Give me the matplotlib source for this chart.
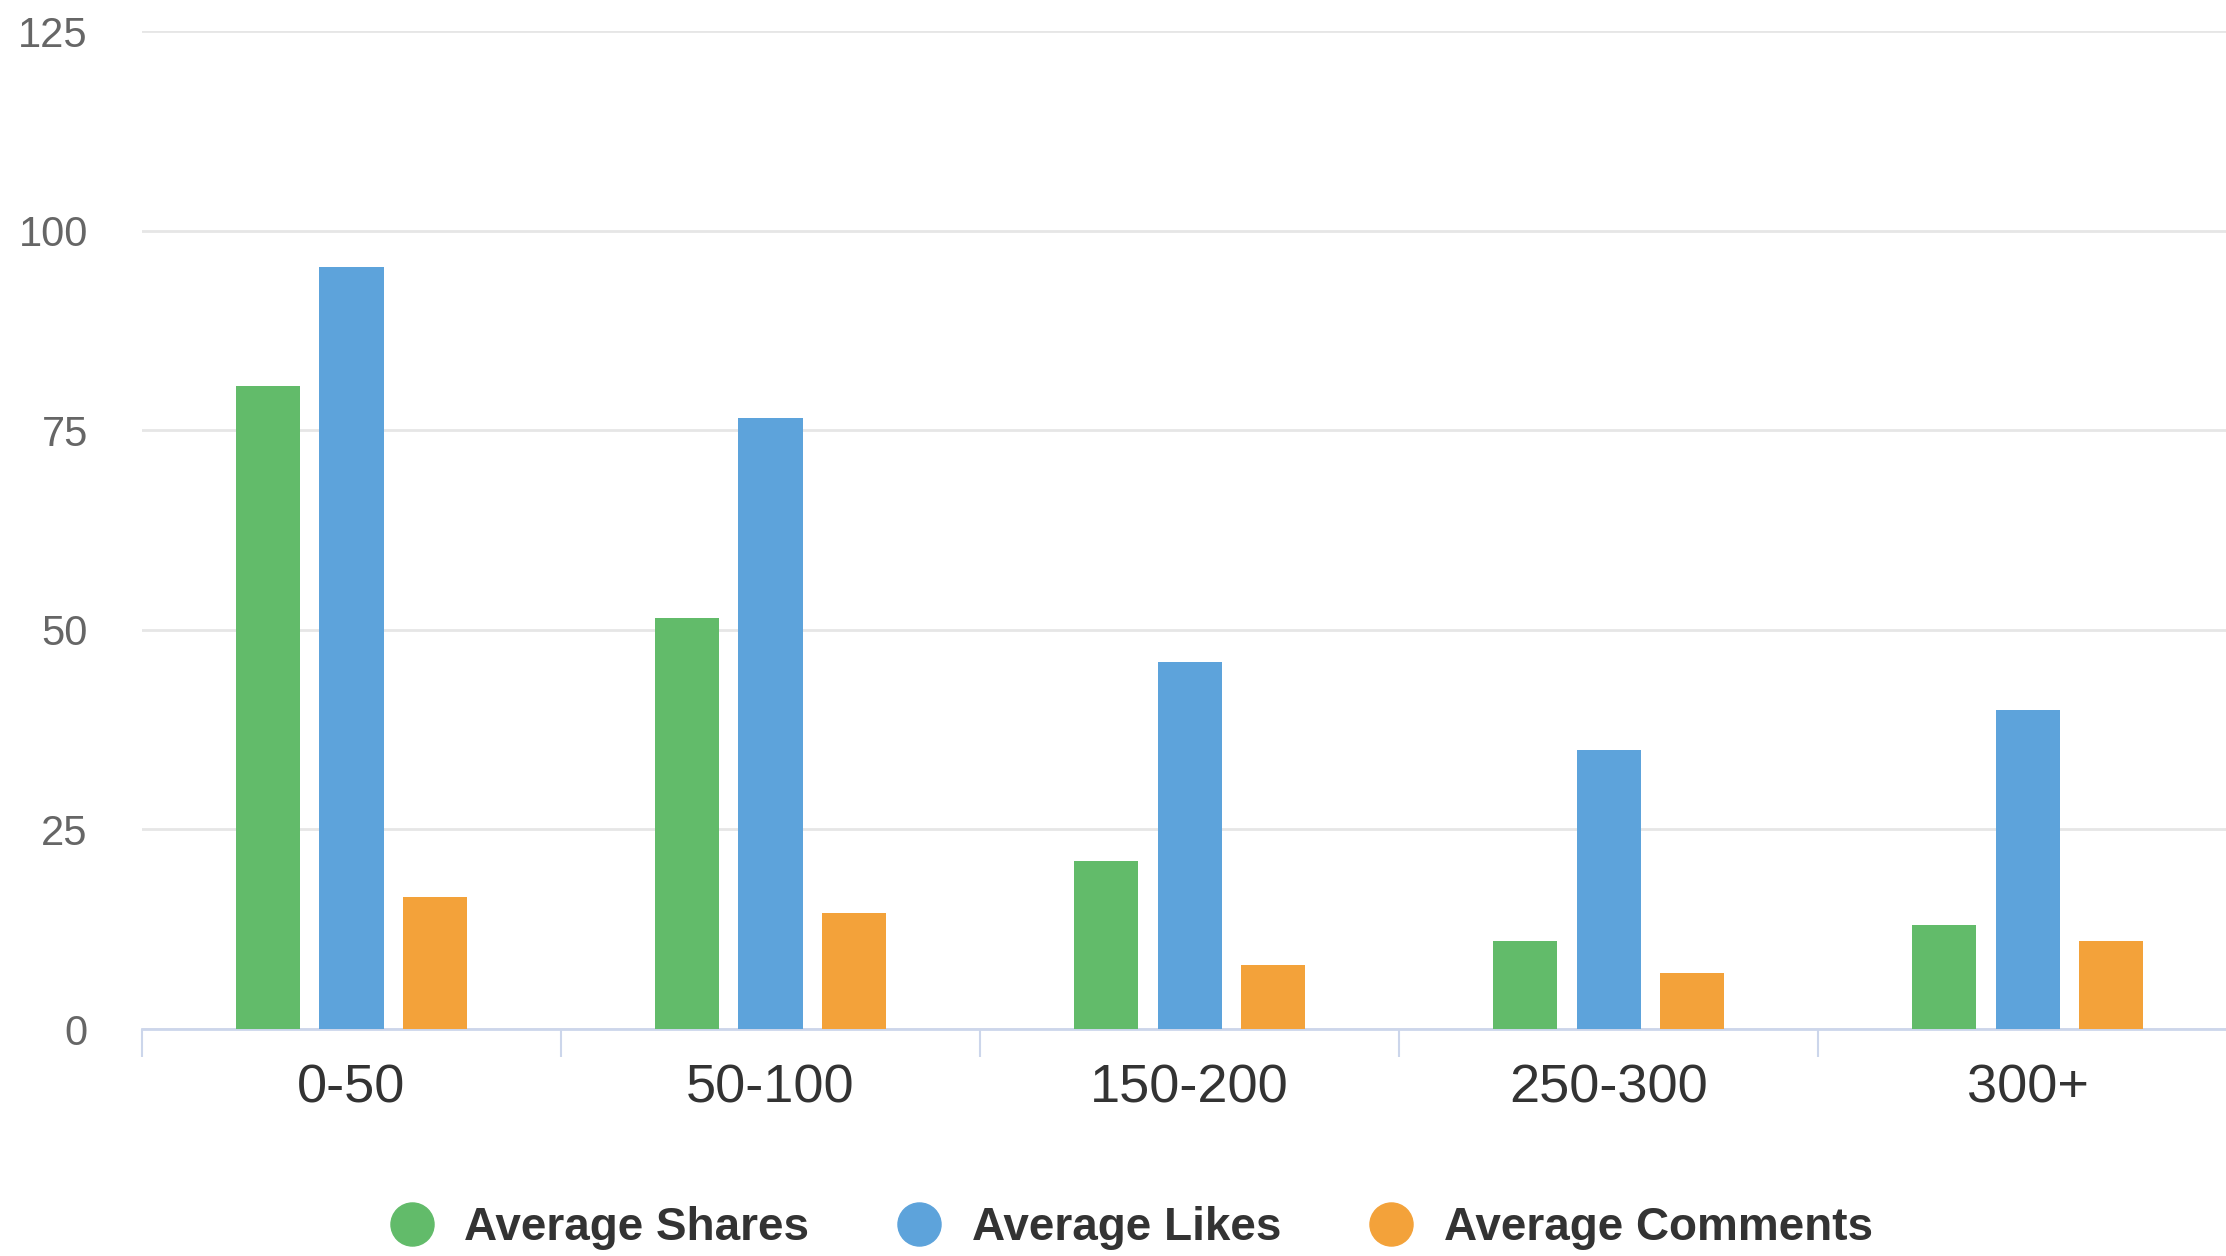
import numpy as np
import matplotlib.pyplot as plt
from matplotlib.lines import Line2D

plt.rcParams['font.family'] = ['Liberation Sans', 'DejaVu Sans']

categories = ['0-50', '50-100', '150-200', '250-300', '300+']
avg_shares = [80.5, 51.5, 21, 11, 13]
avg_likes = [95.5, 76.5, 46, 35, 40]
avg_comments = [16.5, 14.5, 8, 7, 11]

series = [
    ('Average Shares', avg_shares, '#62bb6a'),
    ('Average Likes', avg_likes, '#5da3db'),
    ('Average Comments', avg_comments, '#f3a23a'),
]

fig = plt.figure(figsize=(22.26, 12.56), dpi=100)
ax = fig.add_axes([0.0638, 0.1807, 0.9412, 0.7946])

x = np.arange(len(categories))
width = 0.153
for i, (name, vals, color) in enumerate(series):
    ax.bar(x + (i - 1) * 0.2, vals, width, color=color, zorder=3)

ax.set_xlim(-0.5, len(categories) - 0.5)
ax.set_ylim(0, 125)

# y axis
ax.set_yticks([0, 25, 50, 75, 100, 125])
ax.tick_params(axis='y', length=0, pad=39, labelsize=30, labelcolor='#666666')
ax.grid(axis='y', color='#e6e6e6', linewidth=2, zorder=0)

# x axis: tick marks at boundaries, labels at centers
ax.set_xticks(np.arange(len(categories) + 1) - 0.5)
ax.set_xticklabels([])
ax.set_xticks(x, minor=True)
ax.set_xticklabels(categories, minor=True)
ax.tick_params(axis='x', which='major', length=20, width=1.5, color='#ccd6eb')
ax.tick_params(axis='x', which='minor', length=0, pad=25, labelsize=39, labelcolor='#333333')

for s in ['top', 'right', 'left']:
    ax.spines[s].set_visible(False)
ax.spines['bottom'].set_color('#ccd6eb')
ax.spines['bottom'].set_linewidth(2)

handles = [Line2D([], [], marker='o', linestyle='none', markersize=31,
                  markerfacecolor=c, markeredgecolor=c) for _, _, c in series]
fig.legend(handles, [s[0] for s in series], loc='center', bbox_to_anchor=(0.508, 0.022),
           ncol=3, frameon=False, handlelength=1.0, handletextpad=0.65, columnspacing=1.9,
           prop={'weight': 'bold', 'size': 33}, labelcolor='#333333')

fig.savefig('out.png', dpi=100)
